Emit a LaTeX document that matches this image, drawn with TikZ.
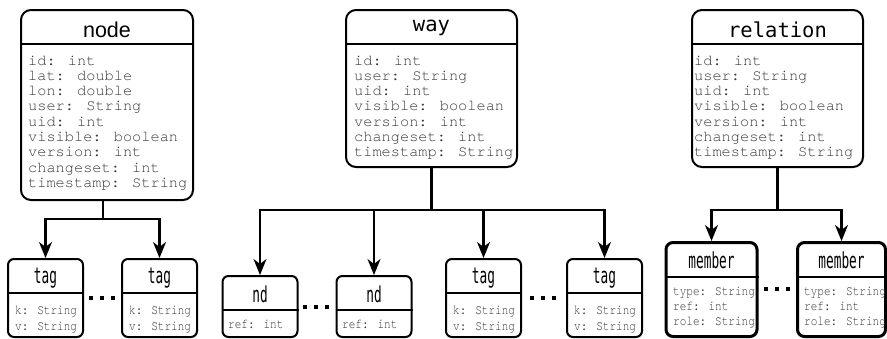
\documentclass[tikz,border=0pt]{standalone}
\usepackage{fontspec}
\usepackage{graphicx}
\usetikzlibrary{arrows.meta}
\newfontfamily\bodymono{texgyrecursor-regular.otf}
\newfontfamily\titlemono{DejaVu Sans Mono}
\newfontfamily\titlesans{Liberation Sans}
\newcommand\dotrow{\rule{4pt}{4pt}\hspace{7pt}\rule{4pt}{4pt}\hspace{7pt}\rule{4pt}{4pt}}
\newcommand\lines[1]{\begin{tabular}[t]{@{}l@{}}#1\end{tabular}}
\newcommand\sqlines[1]{\scalebox{0.8}[1]{\begin{tabular}[t]{@{}l@{}}#1\end{tabular}}}
\newcommand\sqtitle[1]{\scalebox{0.58}[1]{#1}}
\tikzset{
  bigbox/.style={draw, line width=2pt, rounded corners=10pt, inner sep=0pt, minimum width=171pt},
  smallbox/.style={draw, line width=2pt, rounded corners=6pt, inner sep=0pt, minimum width=75pt},
  memberbox/.style={draw, line width=3pt, rounded corners=7pt, inner sep=0pt},
  divider/.style={line width=2pt},
  conn/.style={line width=2.2pt},
  arr/.style={conn, -{Stealth[length=16pt,width=13pt,inset=5pt]}},
  bigtitle/.style={inner sep=0pt, anchor=base, font=\titlemono\fontsize{20.5}{20.5}\selectfont},
  sanstitle/.style={inner sep=0pt, anchor=base, font=\titlesans\fontsize{21.5}{21.5}\selectfont},
  smalltitle/.style={inner sep=0pt, anchor=base, font=\titlemono\fontsize{22}{22}\selectfont},
  bigbody/.style={inner sep=0pt, anchor=base west, text=black!78, font=\bodymono\fontsize{15.3}{15.3}\selectfont},
  smallbody/.style={inner sep=0pt, anchor=base west, text=black!78, font=\bodymono\fontsize{13.8}{16}\selectfont},
  memberbody/.style={inner sep=0pt, anchor=base west, text=black!78, font=\bodymono\fontsize{13.8}{15}\selectfont},
  dots/.style={inner sep=0pt, anchor=center}
}
\begin{document}
\begin{tikzpicture}[x=1pt, y=-1pt]
\useasboundingbox (0,0) rectangle (887,338);

% top boxes
\node[bigbox, minimum width=172pt, minimum height=190pt] (node) at (107,105) {};
\node[bigbox, minimum height=157pt] (way) at (431.5,88.5) {};
\node[bigbox, minimum height=157pt] (rel) at (777.5,88.5) {};
\draw[divider] (node.west |- 0,44) -- (node.east |- 0,44);
\draw[divider] (way.west |- 0,44) -- (way.east |- 0,44);
\draw[divider] (rel.west |- 0,44) -- (rel.east |- 0,44);

\node[sanstitle] (node-t) at (107,37) {node};
\node[bigtitle] (way-t) at (431.5,31.5) {way};
\node[bigtitle] (rel-t) at (777.5,37) {relation};

\node[bigbody] (node-b) at (28,65) {\lines{id: int\\lat: double\\lon: double\\user: String\\uid: int\\visible: boolean\\version: int\\changeset: int\\timestamp: String}};
\node[bigbody] (way-b) at (354,65) {\lines{id: int\\user: String\\uid: int\\visible: boolean\\version: int\\changeset: int\\timestamp: String}};
\node[bigbody] (rel-b) at (694,65) {\lines{id: int\\user: String\\uid: int\\visible: boolean\\version: int\\changeset: int\\timestamp: String}};

% bottom boxes
\node[smallbox, minimum height=78pt] (tag1) at (45.5,298) {};
\node[smallbox, minimum height=78pt] (tag2) at (159.5,298) {};
\node[smallbox, minimum height=61pt] (nd1) at (260,306.5) {};
\node[smallbox, minimum height=61pt] (nd2) at (374,306.5) {};
\node[smallbox, minimum height=78pt] (tag3) at (483.5,298) {};
\node[smallbox, minimum height=78pt] (tag4) at (604.5,298) {};
\node[memberbox, minimum width=91pt, minimum height=94pt] (m1) at (711.5,289.5) {};
\node[memberbox, minimum width=88pt, minimum height=94pt] (m2) at (841.5,289.5) {};

\foreach \b in {tag1,tag2,tag3,tag4} {
  \draw[divider] (\b.west |- 0,293) -- (\b.east |- 0,293);
}
\foreach \b in {nd1,nd2} {
  \draw[divider] (\b.west |- 0,310) -- (\b.east |- 0,310);
}
\foreach \b in {m1,m2} {
  \draw[divider] (\b.west |- 0,277) -- (\b.east |- 0,277);
}

\node[smalltitle] (tag1-t) at (45.5,283.5) {\sqtitle{tag}};
\node[smalltitle] (tag2-t) at (159.5,283.5) {\sqtitle{tag}};
\node[smalltitle] (nd1-t) at (260,302) {\sqtitle{nd}};
\node[smalltitle] (nd2-t) at (374,302) {\sqtitle{nd}};
\node[smalltitle] (tag3-t) at (483.5,283.5) {\sqtitle{tag}};
\node[smalltitle] (tag4-t) at (604.5,283.5) {\sqtitle{tag}};
\node[smalltitle] (m1-t) at (711.5,268) {\sqtitle{member}};
\node[smalltitle] (m2-t) at (841.5,268) {\sqtitle{member}};

\node[smallbody] (tag1-b) at (15,314) {\sqlines{k: String\\v: String}};
\node[smallbody] (tag2-b) at (129,314) {\sqlines{k: String\\v: String}};
\node[smallbody] (nd1-b) at (228,328) {\sqlines{ref: int}};
\node[smallbody] (nd2-b) at (342,328) {\sqlines{ref: int}};
\node[smallbody] (tag3-b) at (453,314) {\sqlines{k: String\\v: String}};
\node[smallbody] (tag4-b) at (574,314) {\sqlines{k: String\\v: String}};
\node[memberbody] (m1-b) at (673,295) {\sqlines{type: String\\ref: int\\role: String}};
\node[memberbody] (m2-b) at (804,295) {\sqlines{type: String\\ref: int\\role: String}};

% ellipses
\node[dots] (d1) at (102,298) {\dotrow};
\node[dots] (d2) at (316,307) {\dotrow};
\node[dots] (d3) at (543,298) {\dotrow};
\node[dots] (d4) at (777,289) {\dotrow};

% connectors
\coordinate (nj) at (103,219);
\draw[conn] (nj |- node.south) -- (nj);
\draw[arr] (nj) -| (tag1.north);
\draw[arr] (nj) -| (tag2.north);

\coordinate (wj) at (431.5,210);
\draw[conn] (way.south) -- (wj);
\draw[arr] (wj) -| (nd1.north);
\draw[arr] (wj) -| (nd2.north);
\draw[arr] (wj) -| (tag3.north);
\draw[arr] (wj) -| (tag4.north);

\coordinate (rj) at (777.5,210);
\draw[conn] (rel.south) -- (rj);
\draw[arr] (rj) -| (m1.north);
\draw[arr] (rj) -| (m2.north);
\end{tikzpicture}
\end{document}
